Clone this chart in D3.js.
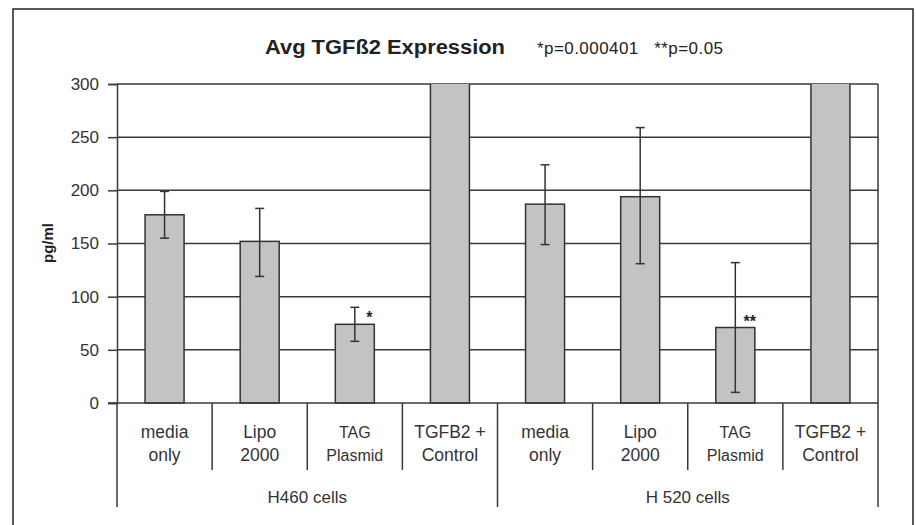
<!DOCTYPE html>
<html>
<head>
<meta charset="utf-8">
<script src="https://cdn.jsdelivr.net/npm/d3@7"></script>
<style>
  body { margin: 0; background: #fff; }
  svg { display: block; font-family: "Liberation Sans", Arial, sans-serif; }
</style>
</head>
<body>
<svg id="chart" width="916" height="525"></svg>
<script>
// chart values
const groups = ["H460 cells", "H 520 cells"];
const treatments = [["media", "only"], ["Lipo", "2000"], ["TAG", "Plasmid"], ["TGFB2 +", "Control"]];
const means = [177, 152, 74, 900, 187, 194, 71, 900];
const errLow = [155, 119, 58, null, 149, 131, 10, null];
const errHigh = [199, 183, 90, null, 224, 259, 132, null];
const stars = ["", "", "*", "", "", "", "**", ""];
const yTicks = [0, 50, 100, 150, 200, 250, 300];

const svg = d3.select("#chart");
const margin = { top: 84, right: 38, bottom: 122, left: 117 };
const width = 916 - margin.left - margin.right;
const height = 525 - margin.top - margin.bottom;

// outer frame
svg.append("rect")
    .attr("x", 13).attr("y", 9)
    .attr("width", 900).attr("height", 540)
    .attr("fill", "none").attr("stroke", "#222").attr("stroke-width", 1.5);

const g = svg.append("g").attr("transform", `translate(${margin.left},${margin.top})`);

const keys = d3.range(groups.length * treatments.length);
const x = d3.scaleBand().domain(keys).range([0, width]).padding(0);
const y = d3.scaleLinear().domain([0, 300]).range([height, 0]);

g.append("clipPath").attr("id", "plotClip")
    .append("rect").attr("width", width).attr("height", height + 1);

// gridlines
g.selectAll(".grid").data(yTicks.slice(1)).enter().append("line")
    .attr("x1", 0).attr("x2", width)
    .attr("y1", d => y(d)).attr("y2", d => y(d))
    .attr("stroke", "#3a3a3a").attr("stroke-width", 1.5);

// right border of plot
g.append("line")
    .attr("x1", width).attr("x2", width)
    .attr("y1", 0).attr("y2", height + 104)
    .attr("stroke", "#3a3a3a").attr("stroke-width", 1.5);

// bars
const barW = x.bandwidth() * 0.41;
g.append("g").attr("clip-path", "url(#plotClip)")
    .selectAll("rect").data(means).enter().append("rect")
    .attr("x", (d, i) => x(i) + x.bandwidth() / 2 - barW / 2)
    .attr("y", d => y(d))
    .attr("width", barW)
    .attr("height", d => height - y(d))
    .attr("fill", "#c3c3c3")
    .attr("stroke", "#333").attr("stroke-width", 1.5);

// error bars
const errs = keys.filter(i => errLow[i] !== null);
const eg = g.append("g").attr("stroke", "#333").attr("stroke-width", 1.5);
errs.forEach(i => {
    const cx = x(i) + x.bandwidth() / 2;
    eg.append("line").attr("x1", cx).attr("x2", cx).attr("y1", y(errLow[i])).attr("y2", y(errHigh[i]));
    [errLow[i], errHigh[i]].forEach(v => {
        eg.append("line").attr("x1", cx - 4.5).attr("x2", cx + 4.5).attr("y1", y(v)).attr("y2", y(v));
    });
});

// significance stars
g.selectAll(".star").data(means).enter().append("text")
    .attr("x", (d, i) => x(i) + x.bandwidth() / 2 + 14.5)
    .attr("y", d => y(d) - 1)
    .attr("text-anchor", "middle")
    .attr("font-size", 16).attr("font-weight", "bold").attr("fill", "#222")
    .text((d, i) => stars[i]);

// y axis
const yAxis = d3.axisLeft(y).tickValues(yTicks).tickSize(9).tickPadding(9);
const ya = g.append("g").call(yAxis);
ya.select(".domain").attr("stroke", "#3a3a3a").attr("stroke-width", 1.5);
ya.selectAll(".tick line").attr("stroke", "#3a3a3a").attr("stroke-width", 1.5);
ya.selectAll(".tick text").attr("font-size", 17).attr("fill", "#333").attr("font-family", "Liberation Sans, Arial, sans-serif");

// x baseline
g.append("line").attr("x1", -9).attr("x2", width).attr("y1", height).attr("y2", height)
    .attr("stroke", "#3a3a3a").attr("stroke-width", 1.5);

// category separators
keys.forEach(i => {
    const bx = x(i);
    const isGroupEdge = i % treatments.length === 0;
    g.append("line").attr("x1", bx).attr("x2", bx)
        .attr("y1", height).attr("y2", height + (isGroupEdge ? 104 : 67))
        .attr("stroke", "#3a3a3a").attr("stroke-width", 1.5);
});

// category labels
keys.forEach(i => {
    const t = treatments[i % treatments.length];
    const small = t[0] === "TAG";
    const txt = g.append("text")
        .attr("x", x(i) + x.bandwidth() / 2)
        .attr("text-anchor", "middle")
        .attr("font-size", small ? 16 : 17.5)
        .attr("fill", "#333");
    txt.append("tspan").attr("x", x(i) + x.bandwidth() / 2).attr("y", height + 35).text(t[0]);
    txt.append("tspan").attr("x", x(i) + x.bandwidth() / 2).attr("y", height + 58).text(t[1]);
});

// group labels
groups.forEach((name, gi) => {
    const x0 = x(gi * treatments.length);
    const x1 = x((gi + 1) * treatments.length - 1) + x.bandwidth();
    g.append("text")
        .attr("x", (x0 + x1) / 2).attr("y", height + 100)
        .attr("text-anchor", "middle")
        .attr("font-size", 17).attr("fill", "#333")
        .text(name);
});

// y axis title
svg.append("text")
    .attr("transform", "translate(53,243) rotate(-90)")
    .attr("text-anchor", "middle")
    .attr("font-size", 15).attr("font-weight", "bold").attr("fill", "#222")
    .text("pg/ml");

// title
svg.append("text")
    .attr("x", 265).attr("y", 54)
    .attr("font-size", 20).attr("font-weight", "bold").attr("fill", "#222")
    .attr("textLength", 240).attr("lengthAdjust", "spacingAndGlyphs")
    .text("Avg TGF\u00DF2 Expression");

svg.append("text")
    .attr("x", 537).attr("y", 54)
    .attr("font-size", 17).attr("fill", "#222")
    .attr("textLength", 186).attr("lengthAdjust", "spacing")
    .style("white-space", "pre")
    .text("*p=0.000401   **p=0.05");
</script>
</body>
</html>
